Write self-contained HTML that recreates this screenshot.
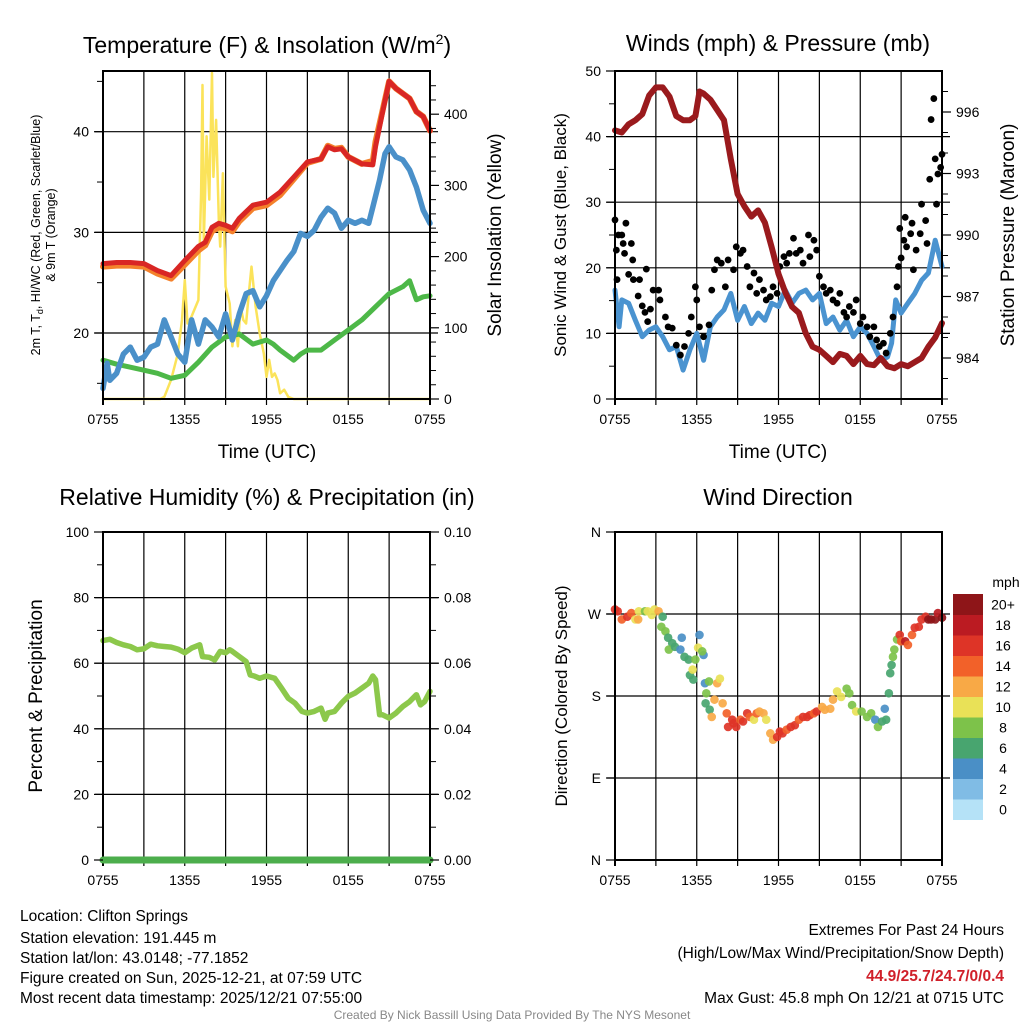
<!DOCTYPE html>
<html><head><meta charset="utf-8">
<style>
html,body{margin:0;padding:0;background:#fff;}
svg{display:block;font-family:"Liberation Sans",Arial,sans-serif;}
</style></head>
<body>
<svg id="fig" width="1024" height="1024" viewBox="0 0 1024 1024" xmlns="http://www.w3.org/2000/svg">
<rect width="1024" height="1024" fill="#fff"/>
<text x="267" y="53" font-size="23" text-anchor="middle">Temperature (F) &amp; Insolation (W/m<tspan font-size="14" dy="-9">2</tspan><tspan dy="9">)</tspan></text>
<text x="778" y="51" font-size="23" text-anchor="middle">Winds (mph) &amp; Pressure (mb)</text>
<text x="267" y="505" font-size="23" text-anchor="middle">Relative Humidity (%) &amp; Precipitation (in)</text>
<text x="778" y="505" font-size="23" text-anchor="middle">Wind Direction</text>

<text transform="translate(40,235) rotate(-90)" font-size="12.5" text-anchor="middle">2m T, T<tspan font-size="9" dy="3">d</tspan><tspan dy="-3">, HI/WC (Red, Green, Scarlet/Blue)</tspan></text>
<text transform="translate(55,235) rotate(-90)" font-size="12.5" text-anchor="middle">&amp; 9m T (Orange)</text>
<text transform="translate(501,235) rotate(-90)" font-size="19" text-anchor="middle">Solar Insolation (Yellow)</text>
<text x="267" y="458" font-size="19" text-anchor="middle">Time (UTC)</text>
<text transform="translate(566,235) rotate(-90)" font-size="17" text-anchor="middle">Sonic Wind &amp; Gust (Blue, Black)</text>
<text transform="translate(1014,235) rotate(-90)" font-size="19" text-anchor="middle">Station Pressure (Maroon)</text>
<text x="778" y="458" font-size="19" text-anchor="middle">Time (UTC)</text>
<text transform="translate(42,696) rotate(-90)" font-size="19" text-anchor="middle">Percent &amp; Precipitation</text>
<text transform="translate(567,696) rotate(-90)" font-size="17" text-anchor="middle">Direction (Colored By Speed)</text>

<g id="p1"></g>
<g id="p2"></g>
<g id="p3"></g>
<g id="p4"></g>
<g id="cbar"></g>

<g font-size="15.5">
<text x="20" y="921">Location: Clifton Springs</text>
<text x="20" y="943">Station elevation: 191.445 m</text>
<text x="20" y="963">Station lat/lon: 43.0148; -77.1852</text>
<text x="20" y="983">Figure created on Sun, 2025-12-21, at 07:59 UTC</text>
<text x="20" y="1003">Most recent data timestamp: 2025/12/21 07:55:00</text>
</g>
<g font-size="15.5" text-anchor="end">
<text x="1004" y="935">Extremes For Past 24 Hours</text>
<text x="1004" y="958">(High/Low/Max Wind/Precipitation/Snow Depth)</text>
<text x="1004" y="981" fill="#d0202a" font-weight="bold">44.9/25.7/24.7/0/0.4</text>
<text x="1004" y="1003">Max Gust: 45.8 mph On 12/21 at 0715 UTC</text>
</g>
<text x="512" y="1019" font-size="12" fill="#888" text-anchor="middle">Created By Nick Bassill Using Data Provided By The NYS Mesonet</text>
</svg>
<script>
// ---- data ----
const timeLabels = ["0755","1355","1955","0155","0755"];
const tempHours = [0,1,2,3,4,5,6,7,7.5,8,8.5,9,9.5,10,11,12,13,14,15,16,16.5,17,17.5,18,19,19.8,20,20.5,21,21.5,22,22.5,23,23.5,24];
const temp2m = [26.9,27.0,27.0,26.9,26.2,25.7,27.2,28.6,29.0,30.5,30.9,30.7,30.4,31.4,32.7,33.0,34.0,35.5,37.0,37.3,38.5,38.2,38.3,37.5,36.8,36.7,38.5,41.8,45.0,44.3,43.8,43.3,42.0,41.5,40.1];
const temp9m = [26.6,26.7,26.7,26.6,25.9,25.4,26.8,28.2,28.7,30.1,30.5,30.4,30.1,31.1,32.4,32.7,33.7,35.3,36.9,37.3,38.6,38.3,38.4,37.5,36.8,37.1,39.0,42.0,45.0,44.3,43.8,43.3,42.0,41.5,40.1];
const chillHours = [0,0.3,0.5,1,1.5,2,2.5,3,3.5,4,4.5,5,5.5,6,6.5,7,7.5,8,8.5,9,9.5,10,10.5,11,11.5,12,12.5,13,13.5,14,14.5,15,15.5,16,16.5,17,17.5,18,18.5,19,19.5,19.8,20.3,20.7,21,21.5,22,22.5,23,23.5,24];
const windChill = [14.5,17,15.3,16.0,17.9,18.6,17.3,17.6,18.6,18.9,21.3,19.6,17.9,17.1,21.3,18.9,21.3,20.6,19.6,21.9,19.3,21.9,23.9,24.2,22.6,23.7,25.2,26.2,27.2,28.1,29.9,29.6,30.2,31.5,32.4,31.9,30.4,31.2,30.9,31.2,30.9,32.5,35.2,37.8,38.5,37.5,37.2,36.2,34.5,32.2,30.9];
const dewHours = [0,1,2,3,4,5,6,7,8,9,10,11,12,12.5,13,14,14.5,15,16,17,18,19,20,21,22,22.5,23,23.5,24];
const dewPoint = [17.3,16.9,16.6,16.3,16.0,15.5,15.8,17.1,18.6,19.6,19.9,18.9,19.3,18.9,18.3,17.3,17.9,18.3,18.3,19.3,20.3,21.3,22.6,23.9,24.6,25.2,23.3,23.6,23.7];
const solarHours = [0,4.2,4.5,5,5.5,5.8,6,6.2,6.5,7,7.2,7.3,7.4,7.6,7.8,8,8.1,8.3,8.5,8.6,8.8,9,9.3,9.5,9.7,9.9,10.1,10.3,10.5,10.7,10.9,11.2,11.5,11.8,12,12.2,12.4,12.6,12.8,13,13.3,13.6,14,24];
const solar = [0,0,3,27,64,111,167,106,116,139,289,441,219,369,280,458,312,392,252,214,317,158,134,74,111,74,130,111,106,148,186,130,92,64,31,55,31,36,27,8,13,3,0,0];
const presHours = [0,0.5,1,1.5,2,2.5,3,3.5,4,4.5,5,5.5,5.9,6.2,6.5,7,7.5,8,8.5,9,9.5,10,10.5,11,11.5,12,12.5,13,13.5,14,14.5,15,15.5,16,16.5,17,17.5,18,18.5,19,19.5,20,20.5,21,21.5,22,22.5,23,23.5,24];
const pressure = [995.1,995.0,995.4,995.6,995.9,996.8,997.2,997.2,996.75,995.8,995.6,995.6,995.8,997.0,996.9,996.6,996.1,995.6,993.7,992.0,991.4,990.9,991.2,990.6,989.4,988.1,987.2,986.5,986.2,985.2,984.55,984.4,984.1,983.8,984.2,984.1,983.7,984.1,983.7,983.65,984.0,983.6,983.5,983.7,983.6,983.8,984.0,984.55,985.0,985.7];
const windHours = [0,0.3,0.5,1,1.5,2,2.5,3,3.5,4,4.5,5,5.5,6,6.5,7,7.5,8,8.5,9,9.5,10,10.5,11,11.5,12,12.5,13,13.5,14,14.5,15,15.5,16,16.5,17,17.5,18,18.5,19,19.5,20,20.3,20.6,21,21.5,22,22.5,23,23.5,24];
const windSpeed = [16.6,11.0,15.1,14.6,12.0,9.5,10.5,11.0,9.5,7.5,8.0,4.4,7.5,10.0,5.9,11.0,12.5,13.6,16.1,12.0,14.1,11.5,13.1,12.0,14.6,14.1,16.6,14.6,16.1,16.6,15.1,16.1,11.5,12.5,10.5,12.0,9.5,11.0,10.0,8.0,5.9,6.4,8.5,15.1,13.1,14.6,16.1,18.1,19.2,24.2,20.2];
const gustHours = [0,0.1,0.15,0.25,0.5,0.6,0.7,0.8,1.0,1.2,1.3,1.35,1.7,1.8,2.0,2.2,2.3,2.4,2.6,2.8,3.2,3.3,3.7,3.9,4.2,4.5,4.8,5.1,5.4,5.6,5.9,6.0,6.2,6.5,6.9,7.1,7.3,7.5,7.8,8.1,8.3,8.7,8.9,9.2,9.4,9.7,9.9,10.2,10.4,10.6,10.9,11.1,11.4,11.6,11.9,12.1,12.4,12.6,12.8,13.1,13.3,13.6,13.8,14.2,14.3,14.6,14.8,15.0,15.3,15.5,15.8,16.0,16.3,16.5,16.8,17.0,17.2,17.5,17.7,18.0,18.2,18.5,18.7,19.0,19.2,19.4,19.7,19.9,20.2,20.4,20.7,20.8,20.9,21.0,21.2,21.3,21.4,21.7,21.8,21.9,22.1,22.4,22.5,22.8,22.9,23.1,23.2,23.4,23.5,23.6,23.7,23.9,24.0];
const gustSpeed = [27.3,22.7,18.2,25.0,25.0,23.7,22.2,26.8,19.0,23.7,21.2,18.2,15.7,18.2,14.2,13.2,19.8,11.8,13.7,16.6,16.6,15.1,12.5,11.0,10.8,8.2,6.7,8.0,10.0,12.5,17.1,15.1,11.0,9.5,11.3,16.6,19.7,21.2,20.7,17.1,21.2,19.7,23.2,22.2,22.7,20.2,17.1,19.2,16.1,18.2,16.6,15.1,15.6,17.1,16.1,20.2,21.7,20.7,22.2,24.5,22.2,22.7,20.7,25.0,21.7,24.2,22.7,18.7,17.1,16.1,16.6,15.1,14.6,16.1,13.2,12.5,14.1,13.2,15.1,11.5,12.5,11.0,9.5,11.0,9.0,8.0,8.5,7.0,10.0,12.5,17.1,20.2,26.0,21.5,24.2,27.7,23.2,25.2,26.8,19.7,22.7,25.2,29.7,27.2,23.7,33.5,42.6,45.8,36.6,29.7,34.3,35.3,37.3];
const rhHours = [0,0.5,1,1.5,2,2.5,3,3.5,4,4.5,5,5.5,6,6.5,7.1,7.3,7.8,8.2,8.6,9.0,9.3,9.5,10.5,10.8,11.1,11.5,12.0,12.6,13.1,13.6,14.1,14.6,15.0,15.5,16.0,16.3,16.5,17,17.5,18,18.5,19,19.5,19.8,20.0,20.3,20.5,21,21.5,22,22.5,23,23.3,23.6,24];
const rhValues = [66.9,67.3,66.3,65.6,65.1,64.1,64.4,65.8,65.3,65.1,64.9,64.3,63.2,64.6,65.6,62.0,61.8,61.0,63.6,63.2,64.1,63.6,60.5,56.4,56.1,55.4,56.1,55.4,52.4,49.3,47.8,45.3,44.8,45.3,46.3,42.9,44.8,45.3,47.8,49.9,50.9,52.4,53.9,56.1,55.0,44.3,44.3,43.3,44.8,46.8,48.3,50.4,47.3,48.3,51.4];
const precipHours = [0,24];
const precipValues = [0,0];
const dirHours = [0,0.2,0.5,0.9,1.2,1.5,1.7,1.75,2.2,2.4,2.7,2.9,3.2,3.5,3.4,3.7,3.9,4.2,3.95,4.4,4.8,4.9,5.1,5.4,5.5,5.7,5.75,5.9,6.1,6.2,6.5,6.4,6.6,6.9,6.7,6.65,6.95,7.1,7.5,7.7,7.3,7.9,8.2,8.3,8.6,8.7,8.9,9.2,9.4,9.7,9.9,10.2,10.4,10.6,10.9,11.1,11.4,11.6,11.9,12.1,12.3,12.6,12.9,13.2,13.5,13.8,14.1,14.3,14.6,14.8,15.2,15.4,15.8,16.0,16.3,16.6,17.0,17.2,17.4,17.7,18.1,18.5,18.8,19.1,19.3,19.6,19.8,19.9,20.1,20.2,20.3,20.4,20.5,20.7,20.9,21.0,21.3,21.5,21.8,22.0,22.3,22.5,22.8,23.0,23.2,23.5,23.7,24.0];
const dirDegrees = [275,273,264,267,271,264,264,273,273,273,269,275,273,267,256,251,244,238,231,234,231,244,223,220,203,209,198,220,233,247,225,229,194,196,183,172,165,157,194,199,176,172,161,146,154,150,146,154,152,161,157,154,161,163,161,154,139,132,135,141,139,143,146,148,154,157,157,159,161,163,168,165,166,176,185,179,188,183,170,163,163,157,161,154,146,152,166,154,183,205,214,223,231,242,247,240,240,236,247,255,256,264,267,264,264,264,271,266];
const dirSpeeds = [17,17,15,17,15,11,13,11,9,11,11,11,13,7,9,9,7,7,9,7,5,5,7,7,7,11,7,9,11,5,5,9,5,9,9,7,7,13,13,11,13,13,15,17,17,17,17,15,17,17,15,11,15,13,13,11,13,13,17,17,17,15,17,17,15,17,17,17,15,17,13,13,13,13,11,11,9,9,9,11,9,9,9,5,9,7,5,7,7,7,7,9,9,9,17,15,19,15,15,17,17,17,17,21,21,21,19,21];
const speedColors = ["#b5e2f7","#80bce5","#4a8fc6","#48a56f","#7dc24a","#e9e157","#f8a946","#f26129","#de3427","#bb1b22","#8e1518"];
const speedLabels = ["0","2","4","6","8","10","12","14","16","18","20+"];

const NS="http://www.w3.org/2000/svg";
function mk(parent,tag,attrs){const e=document.createElementNS(NS,tag);for(const k in attrs)e.setAttribute(k,attrs[k]);parent.appendChild(e);return e;}
function linScale(d0,d1,r0,r1){return v=>r0+(v-d0)*(r1-r0)/(d1-d0);}

function frame(g,x0,x1,y0,y1,hGrid,tickX){
  const xs=linScale(0,24,x0,x1);
  for(let h=3;h<24;h+=3){const l=mk(g,'line',{x1:xs(h),x2:xs(h),y1:y0,y2:y1+6,stroke:'#000','stroke-width':1.2});
    
    }
  hGrid.forEach(y=>{const l=mk(g,'line',{x1:x0-8,x2:x1+8,y1:y,y2:y,stroke:'#000','stroke-width':1.2});
    
    });
  timeLabels.forEach((t,i)=>{const tx=mk(g,'text',{x:xs(i*6),y:tickX,'font-size':14,'text-anchor':'middle'});tx.textContent=t;
    
    });
  return xs;
}
function border(g,x0,x1,y0,y1){
  const r=mk(g,'rect',{x:x0,y:y0,width:x1-x0,height:y1-y0,fill:'none',stroke:'#000','stroke-width':2});
  
  
  [x0,x1].forEach(x=>{const l=mk(g,'line',{x1:x,x2:x,y1:y0,y2:y1+6,stroke:'#000','stroke-width':2});
    
    });
}
function yTicks(g,ys,vals,labels,x,side,minor){
  minor.forEach(v=>{const l=mk(g,'line',{x1:x,x2:x+side*6,y1:ys(v),y2:ys(v),stroke:'#000','stroke-width':1});
    
    });
  vals.forEach((v,i)=>{const l=mk(g,'line',{x1:x,x2:x+side*9,y1:ys(v),y2:ys(v),stroke:'#000','stroke-width':1.2});
    
    
    const t=mk(g,'text',{x:x+side*14,y:ys(v)+5,'font-size':14,'text-anchor':side<0?'end':'start'});t.textContent=labels[i];
    
    });
}
function path(g,hs,vs,xs,ys,color,w){
  let d='';hs.forEach((h,i)=>{d+=(i?'L':'M')+xs(h).toFixed(1)+','+ys(vs[i]).toFixed(1);});
  return mk(g,'path',{d:d,fill:'none',stroke:color,'stroke-width':w,'stroke-linejoin':'round','stroke-linecap':'round'});
}

// Panel 1
(function(){
  const g=document.getElementById('p1');const x0=103,x1=430,y0=71,y1=399;
  const ys=linScale(20,40,333,131.7), ysr=linScale(0,400,399,114.2);
  const xs=frame(g,x0,x1,y0,y1,[ys(20),ys(30),ys(40)],424);
  let e;
  e=path(g,solarHours,solar,xs,ysr,'#fbe35a',2.5);
  
  
  e=path(g,dewHours,dewPoint,xs,ys,'#4db848',5);
  
  
  e=path(g,chillHours,windChill,xs,ys,'#4a90c9',5.5);
  
  
  e=path(g,tempHours,temp9m,xs,ys,'#f4812b',6);
  
  
  e=path(g,tempHours,temp2m,xs,ys,'#d92624',5);
  
  
  border(g,x0,x1,y0,y1);
  yTicks(g,ys,[20,30,40],['20','30','40'],x0,-1,[15,25,35,45]);
  yTicks(g,ysr,[0,100,200,300,400],['0','100','200','300','400'],x1,1,[20,40,60,80,120,140,160,180,220,240,260,280,320,340,360,380,420,440]);
})();

// Panel 2
(function(){
  const g=document.getElementById('p2');const x0=615,x1=942,y0=71,y1=399;
  const ys=linScale(0,50,399,71), ysr=linScale(984,996,358,112);
  const xs=frame(g,x0,x1,y0,y1,[ys(10),ys(20),ys(30),ys(40)],424);
  let e;
  e=path(g,windHours,windSpeed,xs,ys,'#4a93d0',5);
  
  
  gustHours.forEach((h,i)=>{const c=mk(g,'circle',{cx:xs(h),cy:ys(gustSpeed[i]),r:3.4,fill:'#000'});
    
    });
  e=path(g,presHours,pressure,xs,ysr,'#9a1a1d',6);
  
  
  border(g,x0,x1,y0,y1);
  yTicks(g,ys,[0,10,20,30,40,50],['0','10','20','30','40','50'],x0,-1,[5,15,25,35,45]);
  yTicks(g,ysr,[984,987,990,993,996],['984','987','990','993','996'],x1,1,[982,983,985,986,988,989,991,992,994,995,997]);
})();

// Panel 3
(function(){
  const g=document.getElementById('p3');const x0=103,x1=430,y0=532,y1=860;
  const ys=linScale(0,100,860,532), ysr=linScale(0,0.1,860,532);
  const xs=frame(g,x0,x1,y0,y1,[ys(20),ys(40),ys(60),ys(80)],885);
  let e;
  e=path(g,rhHours,rhValues,xs,ys,'#8cc84b',5.5);
  
  
  border(g,x0,x1,y0,y1);
  e=path(g,precipHours,precipValues,xs,ysr,'#4cae4c',7);
  
  
  yTicks(g,ys,[0,20,40,60,80,100],['0','20','40','60','80','100'],x0,-1,[10,30,50,70,90]);
  yTicks(g,ysr,[0,0.02,0.04,0.06,0.08,0.1],['0.00','0.02','0.04','0.06','0.08','0.10'],x1,1,[0.01,0.03,0.05,0.07,0.09]);
})();

// Panel 4
(function(){
  const g=document.getElementById('p4');const x0=615,x1=942,y0=532,y1=860;
  const ys=linScale(0,360,860,532);
  const xs=frame(g,x0,x1,y0,y1,[ys(90),ys(180),ys(270)],885);
  dirHours.forEach((h,i)=>{const s=dirSpeeds[i];const b=Math.min(10,Math.floor(s/2));
    const c=mk(g,'circle',{cx:xs(h),cy:ys(dirDegrees[i]),r:4.3,fill:speedColors[b],'fill-opacity':0.92});
    
    });
  border(g,x0,x1,y0,y1);
  yTicks(g,ys,[0,90,180,270,360],['N','E','S','W','N'],x0,-1,[]);
  // colorbar
  const cb=document.getElementById('cbar');
  const cx=953,cw=30,ctop=594,bh=20.5;
  speedColors.forEach((col,i)=>{const y=ctop+(10-i)*bh;
    const r=mk(cb,'rect',{x:cx,y:y,width:cw,height:bh+0.5,fill:col});
    
    
    const t=mk(cb,'text',{x:cx+50,y:y+bh/2+5,'font-size':14,'text-anchor':'middle'});t.textContent=speedLabels[i];
    
    });
  const u=mk(cb,'text',{x:1006,y:587,'font-size':14,'text-anchor':'middle'});u.textContent='mph';
  
  
})();
</script>
</body></html>
